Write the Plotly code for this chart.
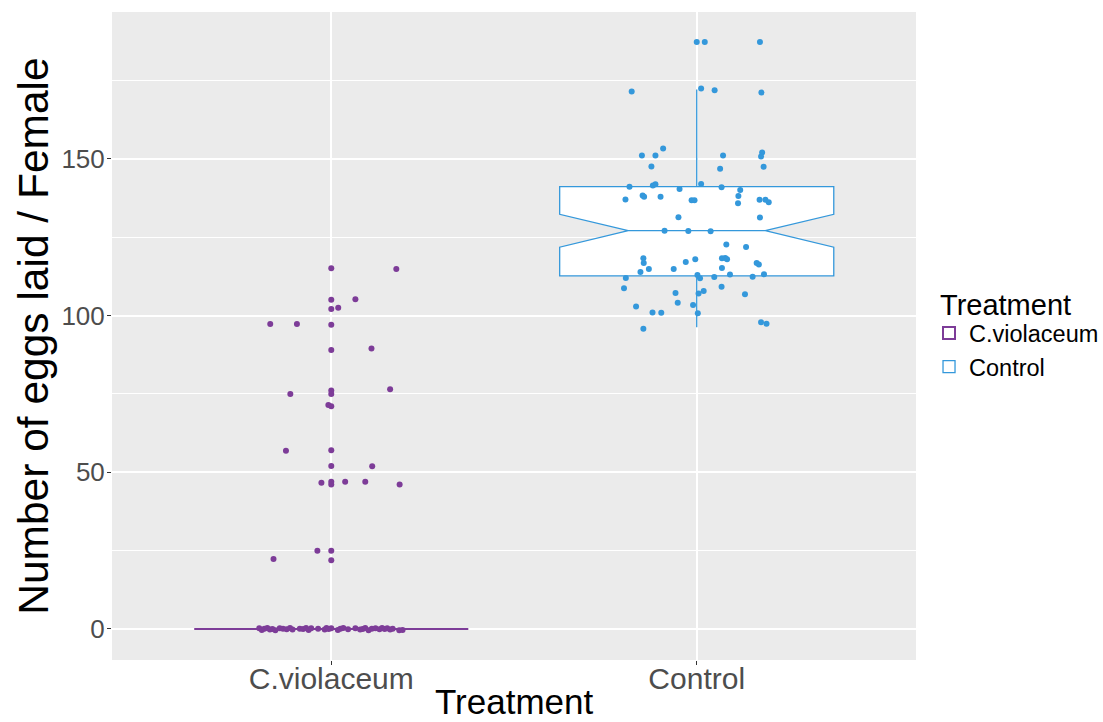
import plotly.graph_objects as go

# ---------------- data ----------------
categories = ["C.violaceum", "Control"]
colors = ["#7D3C98", "#3498DB"]

# box statistics (per category)
box_q1 = [0.0, 112.7]
box_median = [0.0, 127.1]
box_q3 = [0.0, 141.2]
box_lowerfence = [0.0, 96.3]
box_upperfence = [0.0, 172.2]
box_notchspan = [0.0, 5.25]

# C.violaceum observations (eggs) and horizontal jitter offsets (category units)
viol_eggs = [115.1, 114.9, 105.1, 105.2, 102.1, 102.5, 97.3, 97.3, 97.1, 89.0,
             89.5, 76.1, 75.0, 76.5, 75.0, 71.5, 71.1, 56.9, 57.0, 52.0,
             51.9, 46.7, 47.0, 46.1, 47.0, 47.0, 46.1, 22.3, 25.0, 25.0, 21.9,
             0.2, -0.3, 0.1, 0.3, -0.2, 0.0, -0.4, 0.2, 0.1, -0.1,
             0.3, -0.2, 0.1, 0.0, 0.3, -0.3, 0.2, 0.1, -0.2, 0.3,
             0.0, 0.2, -0.3, 0.1, 0.3, -0.1, 0.2, -0.2, 0.0, 0.3,
             -0.4, 0.1, 0.2, -0.1, 0.3, 0.0, 0.2, -0.2, 0.1, -0.4, -0.3]
viol_jitter = [0.0, 0.178, 0.0, 0.066, 0.0, 0.019, -0.167, -0.094, 0.0, 0.0,
               0.110, 0.0, 0.0, 0.161, -0.112, -0.008, 0.0, -0.124, 0.0, 0.0,
               0.112, -0.027, 0.0, 0.0, 0.038, 0.093, 0.187, -0.158, -0.038, 0.0, 0.0,
               -0.197, -0.190, -0.183, -0.175, -0.168, -0.161, -0.153, -0.141, -0.132, -0.122,
               -0.113, -0.106, -0.086, -0.077, -0.069, -0.062, -0.055, -0.036, -0.018, -0.013,
               -0.007, 0.0, 0.018, 0.025, 0.033, 0.046, 0.066, 0.079, 0.086, 0.093,
               0.102, 0.111, 0.121, 0.132, 0.139, 0.146, 0.153, 0.161, 0.168, 0.186, 0.195]

# Control observations and jitter offsets
ctrl_eggs = [187.3, 187.3, 187.3, 171.5, 172.5, 171.9, 171.2, 153.3, 151.1, 151.1,
             151.1, 152.1, 150.8, 147.6, 146.9, 147.5, 141.1, 141.5, 141.9, 140.4,
             142.0, 141.0, 140.1, 138.2, 137.1, 138.3, 137.9, 137.9, 136.8, 136.8,
             135.9, 137.0, 137.0, 136.2, 131.4, 131.3, 127.1, 127.0, 126.9, 122.7,
             121.9, 118.3, 116.8, 118.0, 117.1, 118.3, 118.4, 118.0, 116.8, 116.3,
             113.9, 114.9, 114.9, 115.2, 112.0, 113.0, 111.9, 112.3, 113.1, 112.4,
             113.2, 108.7, 107.2, 107.1, 107.9, 109.2, 106.8, 102.9, 104.1, 103.4,
             101.0, 100.9, 100.8, 97.9, 97.4, 95.8]
ctrl_jitter = [0.0, 0.022, 0.173, -0.178, 0.012, 0.049, 0.177, -0.092, -0.150, -0.113,
               0.072, 0.179, 0.176, -0.124, 0.064, 0.183, -0.184, -0.120, -0.113, -0.047,
               0.012, 0.068, 0.119, 0.114, -0.195, -0.148, -0.144, -0.099, -0.014, -0.006,
               0.113, 0.172, 0.188, 0.197, -0.050, 0.173, -0.088, -0.023, 0.038, 0.081,
               0.135, -0.146, -0.145, -0.004, -0.030, 0.069, 0.078, 0.083, 0.164, 0.170,
               -0.154, -0.131, -0.063, 0.069, -0.194, 0.002, 0.009, 0.048, 0.091, 0.153,
               0.184, -0.199, -0.058, 0.005, 0.019, 0.068, 0.132, -0.166, -0.052, -0.010,
               -0.121, -0.097, 0.003, 0.176, 0.191, -0.146]

y_ticks = [0, 50, 100, 150]
box_line_widths = [2.0, 1.3]

# ---------------- figure ----------------
FONT = "Liberation Sans, Arial, Helvetica, sans-serif"
fig = go.Figure()

for i, cat in enumerate(categories):
    fig.add_trace(go.Box(
        x=[i], q1=[box_q1[i]], median=[box_median[i]], q3=[box_q3[i]],
        lowerfence=[box_lowerfence[i]], upperfence=[box_upperfence[i]],
        notchspan=[box_notchspan[i]], notched=True, notchwidth=0.25,
        width=0.75, whiskerwidth=0, boxpoints=False,
        fillcolor="white", line=dict(color=colors[i], width=box_line_widths[i]),
        name=cat, legendgroup=cat, orientation="v",
    ))

groups = [(viol_eggs, viol_jitter), (ctrl_eggs, ctrl_jitter)]
for i, (eggs, jit) in enumerate(groups):
    fig.add_trace(go.Scatter(
        x=[i + j for j in jit], y=eggs, mode="markers",
        marker=dict(color=colors[i], size=6, line=dict(width=0)),
        name=categories[i], legendgroup=categories[i], showlegend=False,
        hoverinfo="y",
    ))

fig.update_layout(
    width=1103, height=722,
    margin=dict(l=112, r=187, t=12, b=62, autoexpand=False),
    paper_bgcolor="white", plot_bgcolor="#EBEBEB",
    font=dict(family=FONT, color="black"),
    boxmode="overlay",
    legend=dict(
        font=dict(size=23.5, color="black"),
        x=1.0162, xanchor="left", y=0.478, yanchor="middle",
        bgcolor="rgba(0,0,0,0)", itemwidth=30, tracegroupgap=0,
    ),
    xaxis=dict(
        range=[-0.6, 1.6], tickvals=[0, 1], ticktext=categories,
        showgrid=True, gridcolor="white", gridwidth=1.5, zeroline=False,
        ticks="outside", ticklen=4, tickcolor="#333333", tickwidth=1,
        tickfont=dict(size=30, color="#4D4D4D", family=FONT),
        ticklabelstandoff=-12,
        automargin=False, showline=False,
    ),
    yaxis=dict(
        range=[-9.9, 196.9], tickvals=y_ticks,
        showgrid=True, gridcolor="white", gridwidth=1.5, zeroline=False,
        ticks="outside", ticklen=4, tickcolor="#333333", tickwidth=1,
        tickfont=dict(size=26, color="#4D4D4D", family=FONT),
        ticklabelstandoff=-3,
        minor=dict(tickmode="linear", tick0=25, dtick=50, showgrid=True,
                   gridcolor="white", gridwidth=0.8, ticks=""),
        automargin=False, showline=False,
    ),
    annotations=[
        dict(text="Treatment", xref="paper", yref="paper", x=0.5, y=-0.0645,
             xanchor="center", yanchor="middle", showarrow=False,
             font=dict(size=35, color="black", family=FONT)),
        dict(text="Number of eggs laid / Female", xref="paper", yref="paper",
             x=-0.0985, y=0.5, xanchor="center", yanchor="middle", textangle=-90,
             showarrow=False, font=dict(size=42.5, color="black", family=FONT)),
        # legend title
        dict(text="Treatment", xref="paper", yref="paper", x=1.0274, y=0.548,
             xanchor="left", yanchor="middle", showarrow=False,
             font=dict(size=29, color="black", family=FONT)),
    ],
)

fig.write_html("out.html", config={"displayModeBar": False},
               post_script="document.body.style.margin='0';")
